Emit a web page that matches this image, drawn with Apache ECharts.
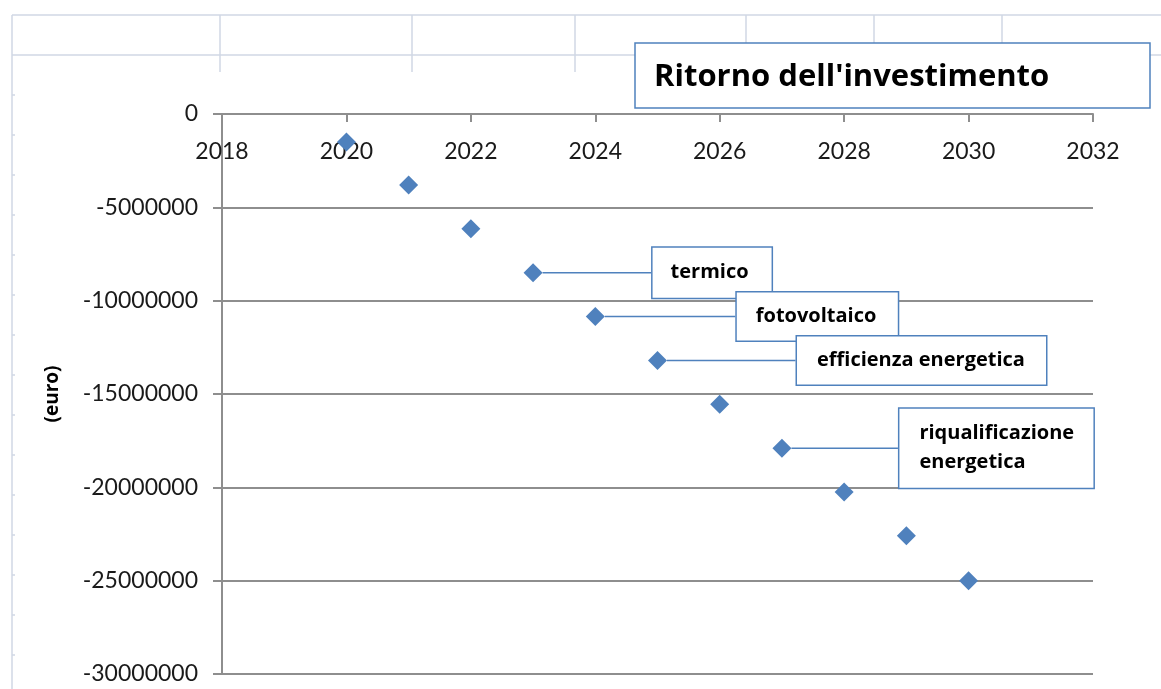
<!DOCTYPE html>
<html>
<head>
<meta charset="utf-8">
<title>Ritorno dell'investimento</title>
<script src="https://cdn.jsdelivr.net/npm/echarts@6/dist/echarts.min.js"></script>
<style>
html, body { margin: 0; padding: 0; background: #fff; }
#main { width: 1161px; height: 689px; }
</style>
</head>
<body>
<div id="main"></div>
<script>
// anni e ritorno cumulato dell'investimento (euro)
var anni = [2020, 2021, 2022, 2023, 2024, 2025, 2026, 2027, 2028, 2029, 2030];
var ritorno = [-1500000, -3800000, -6150000, -8500000, -10850000, -13200000,
               -15550000, -17900000, -20250000, -22600000, -25000000];

// riquadri di testo agganciati ad alcuni punti
var noteAnni = [2023, 2024, 2025, 2027];
var noteTesti = ['termico', 'fotovoltaico', 'efficienza energetica', 'riqualificazione\nenergetica'];

// layout dei riquadri (distanza dal punto, larghezza testo, padding)
var noteBox = [
    { gap: 116, w: 101, pad: [12, 0, 12, 18], lh: 26 },
    { gap: 138, w: 142, pad: [11, 0, 11, 19], lh: 26 },
    { gap: 136, w: 229, pad: [11, 0, 11, 20], lh: 26 },
    { gap: 114, w: 174, pad: [10, 0, 11, 20], lh: 29 }
];

var blu = '#4f81bd';
var grigio = '#8e8e8e';
var griglia = '#d0d7e5';
var testo = 'Open Sans';

var myChart = echarts.init(document.getElementById('main'));

var punti = anni.map(function (a, i) {
    var item = { value: [a, ritorno[i]] };
    var k = noteAnni.indexOf(a);
    if (k >= 0) {
        item.label = {
            show: true,
            formatter: noteTesti[k],
            width: noteBox[k].w,
            padding: noteBox[k].pad,
            lineHeight: noteBox[k].lh
        };
    }
    return item;
});

// righe del foglio di calcolo dietro al grafico
var foglio = [];
[[12, 15, 1161, 15], [12, 55, 1161, 55], [12, 15, 12, 689],
 [220, 15, 220, 72], [412, 15, 412, 72], [575, 15, 575, 72],
 [746, 15, 746, 43], [874, 15, 874, 43], [1002, 15, 1002, 43]].forEach(function (l) {
    foglio.push({ type: 'line', shape: { x1: l[0], y1: l[1], x2: l[2], y2: l[3] },
        style: { stroke: griglia, lineWidth: 1.5 }, silent: true });
});
for (var y = 95; y < 689; y += 40) {
    foglio.push({ type: 'line', shape: { x1: 12, y1: y, x2: 15, y2: y },
        style: { stroke: griglia, lineWidth: 1.5 }, silent: true });
}

var option = {
    backgroundColor: '#fff',
    animation: false,
    graphic: foglio,
    title: {
        text: "Ritorno dell'investimento",
        left: 635,
        top: 43,
        padding: [15, 0, 11, 19],
        borderColor: blu,
        borderWidth: 1.5,
        backgroundColor: '#fff',
        textStyle: {
            fontFamily: testo,
            fontWeight: 'bold',
            fontSize: 31,
            color: '#000',
            width: 496,
            lineHeight: 39
        }
    },
    grid: { left: 222, right: 68, top: 114, bottom: 15 },
    xAxis: {
        type: 'value',
        position: 'top',
        min: 2018,
        max: 2032,
        interval: 2,
        axisLine: { lineStyle: { color: grigio, width: 2 } },
        axisTick: { inside: true, length: 8, lineStyle: { color: grigio, width: 2 } },
        axisLabel: {
            inside: true,
            margin: 26,
            fontFamily: 'Lato',
            fontSize: 23,
            color: '#1a1a1a',
            formatter: function (v) { return String(v); }
        },
        splitLine: { show: false }
    },
    yAxis: {
        type: 'value',
        min: -30000000,
        max: 0,
        interval: 5000000,
        name: '(euro)',
        nameLocation: 'middle',
        nameGap: 160,
        nameTextStyle: { fontFamily: testo, fontWeight: 'bold', fontSize: 19, color: '#000' },
        axisLine: { show: true, lineStyle: { color: grigio, width: 2 } },
        axisTick: { show: true, length: 9, lineStyle: { color: grigio, width: 2 } },
        axisLabel: {
            margin: 24,
            fontFamily: 'Lato',
            fontSize: 23,
            color: '#1a1a1a',
            formatter: function (v) { return String(v); }
        },
        splitLine: { lineStyle: { color: grigio, width: 2 } }
    },
    series: [{
        name: 'ritorno',
        type: 'scatter',
        symbol: 'diamond',
        symbolSize: 19,
        itemStyle: { color: blu, opacity: 1 },
        label: {
            show: false,
            position: 'right',
            distance: 0,
            align: 'left',
            fontFamily: testo,
            fontWeight: 'bold',
            fontSize: 20,
            color: '#000',
            backgroundColor: '#fff',
            borderColor: blu,
            borderWidth: 1.5
        },
        labelLine: { show: true, lineStyle: { color: blu, width: 1.5, opacity: 1 } },
        labelLayout: function (p) {
            var k = noteAnni.indexOf(anni[p.dataIndex]);
            if (k < 0) return {};
            return { dx: noteBox[k].gap - 6 };
        },
        data: punti
    }]
};

myChart.setOption(option);
</script>
</body>
</html>
